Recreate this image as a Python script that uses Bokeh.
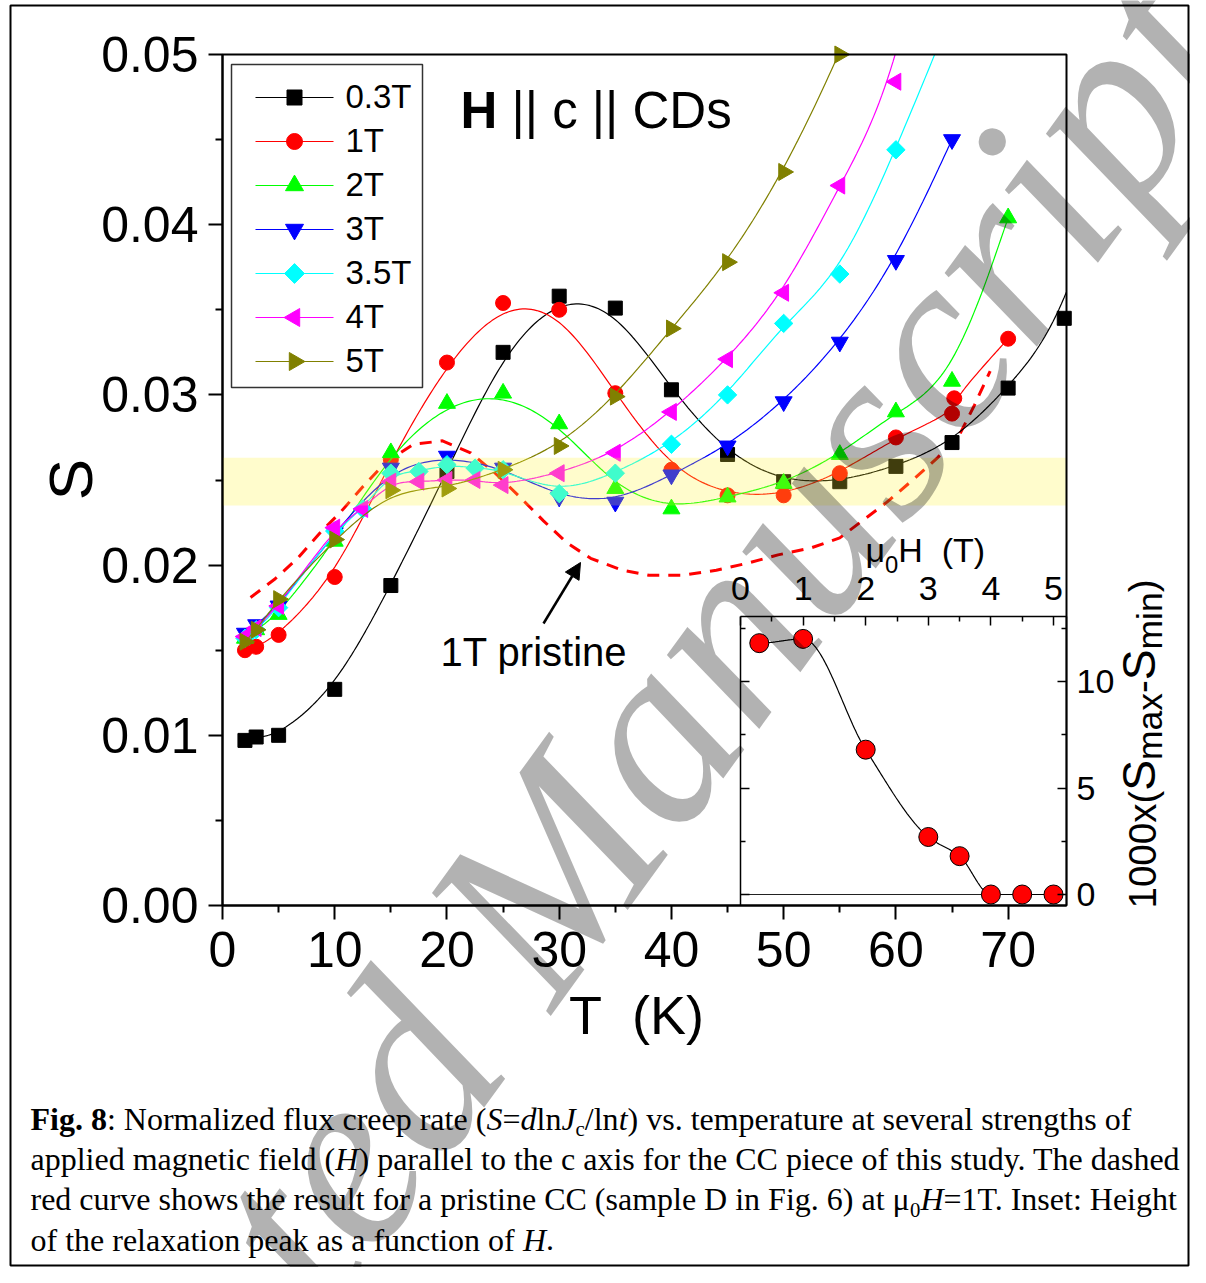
import os, glob, struct
import numpy as np
from bokeh.plotting import figure
from bokeh.models import (Range1d, LinearAxis, FixedTicker, PrintfTickFormatter, Label,
                          BoxAnnotation, Arrow, NormalHead)
from bokeh.embed import file_html
from bokeh.resources import INLINE

# ---------------- data ----------------
SERIES_LABELS = ["0.3T", "1T", "2T", "3T", "3.5T", "4T", "5T"]

T_03 = [2, 3, 5, 10, 15, 20, 25, 30, 35, 40, 45, 50, 55, 60, 65, 70, 75, 80]
S_03 = [0.0097, 0.0099, 0.0100, 0.0127, 0.0188, 0.0255, 0.0325, 0.0358, 0.0351,
        0.0303, 0.0265, 0.0249, 0.0249, 0.0258, 0.0272, 0.0304, 0.0345, 0.0460]

T_1 = [2, 3, 5, 10, 15, 20, 25, 30, 35, 40, 45, 50, 55, 60, 65, 65.2, 70]
S_1 = [0.0150, 0.0152, 0.0159, 0.0193, 0.0262, 0.0319, 0.0354, 0.0350, 0.0301,
       0.0256, 0.0241, 0.0241, 0.0254, 0.0275, 0.0289, 0.0298, 0.0333]

T_2 = [2, 3, 5, 10, 15, 20, 25, 30, 35, 40, 45, 50, 55, 60, 65, 70]
S_2 = [0.0157, 0.0162, 0.0171, 0.0214, 0.0266, 0.0295, 0.0301, 0.0283, 0.0245,
       0.0233, 0.0240, 0.0248, 0.0265, 0.0290, 0.0308, 0.0404]

T_3 = [2, 3, 5, 10, 15, 20, 25, 30, 35, 40, 45, 50, 55, 60, 65]
S_3 = [0.0160, 0.0165, 0.0176, 0.0219, 0.0257, 0.0264, 0.0257, 0.0240, 0.0237,
       0.0253, 0.0270, 0.0296, 0.0331, 0.0379, 0.0450]

T_35 = [2, 3, 5, 10, 12.5, 15, 17.5, 20, 22.5, 25, 30, 35, 40, 45, 50, 55, 60, 65]
S_35 = [0.0157, 0.0162, 0.0175, 0.0220, 0.0233, 0.0254, 0.0255, 0.0259, 0.0257,
        0.0256, 0.0242, 0.0254, 0.0271, 0.0300, 0.0342, 0.0371, 0.0444, 0.0525]

T_4 = [2, 3, 5, 10, 12.5, 15, 17.5, 20, 22.5, 25, 30, 35, 40, 45, 50, 55, 60, 65]
S_4 = [0.0158, 0.0163, 0.0176, 0.0222, 0.0233, 0.0249, 0.0249, 0.0250, 0.0250,
       0.0247, 0.0254, 0.0266, 0.0290, 0.0321, 0.0360, 0.0423, 0.0484, 0.0650]

T_5 = [2, 3, 5, 10, 15, 20, 25, 30, 35, 40, 45, 50, 55, 60]
S_5 = [0.0155, 0.0162, 0.0180, 0.0215, 0.0244, 0.0245, 0.0256, 0.0270, 0.0299,
       0.0339, 0.0378, 0.0431, 0.0500, 0.0580]

T_PRISTINE = [2.5, 4.7, 6.7, 8.7, 10.5, 12.5, 14.5, 17.0, 19.6, 22.1, 24.3, 26.5, 28.6,
              30.7, 32.8, 35.6, 38.0, 41.0, 44.0, 46.7, 49.5, 52.4, 55.0, 57.0, 59.2,
              61.5, 63.7, 65.7, 67.0, 68.4]
S_PRISTINE = [0.0181, 0.0192, 0.0204, 0.0219, 0.0231, 0.0246, 0.0260, 0.0271, 0.0273,
              0.0266, 0.0254, 0.0240, 0.0226, 0.0213, 0.0204, 0.0197, 0.0194, 0.0194,
              0.0197, 0.0201, 0.0206, 0.0210, 0.0216, 0.0226, 0.0237, 0.0250, 0.0263,
              0.0277, 0.0294, 0.0314]

BAND_S = [0.0235, 0.0263]

H_INSET = [0.3, 1, 2, 3, 3.5, 4, 4.5, 5]
D_INSET = [11.8, 12.0, 6.8, 2.7, 1.8, 0.0, 0.0, 0.0]

T_TICKS = [0, 10, 20, 30, 40, 50, 60, 70]
T_MINOR = [5, 15, 25, 35, 45, 55, 65]
S_TICKS = [0.0, 0.01, 0.02, 0.03, 0.04, 0.05]
S_MINOR = [0.005, 0.015, 0.025, 0.035, 0.045]
H_TICKS = [0, 1, 2, 3, 4, 5]
H_MINOR = [0.5, 1.5, 2.5, 3.5, 4.5]
D_TICKS = [0, 5, 10]
D_MINOR = [2.5, 7.5, 12.5]

# ---------------- layout constants (pixels of the picture) ----------------
W, H = 1190, 1267
FL, FR, FT, FB = 222, 1066, 54, 905      # main plot box
X_MAX, Y_MAX = 75.2, 0.05
IN_H0, IN_HPX = 740, 62.6                # inset: pixel of H=0, pixels per tesla
IN_D0, IN_DPX = 894, 21.3                # inset: pixel of D=0, pixels per unit
INSET_TOP = (IN_D0 - 616) / IN_DPX
INSET_RIGHT = (FR - IN_H0) / IN_HPX
INSET_BOTTOM = (IN_D0 - FB) / IN_DPX
SANS = "Liberation Sans"
SERIF = "Liberation Serif"
BASE_FIX = 0.4                           # label baseline correction (em)

kx = (FR - FL) / X_MAX
ky = (FB - FT) / Y_MAX
T_VIEW = ((0 - FL) / kx, (W - FL) / kx)
S_VIEW = ((FB - H) / ky, FB / ky)
H_VIEW = ((0 - IN_H0) / IN_HPX, (W - IN_H0) / IN_HPX)
D_VIEW = ((IN_D0 - H) / IN_DPX, IN_D0 / IN_DPX)


# ---------------- font widths (for rich text segments) ----------------
class TTFWidths:
    def __init__(self, path):
        self.ok = False
        if not path:
            return
        try:
            d = open(path, "rb").read()
            n = struct.unpack(">H", d[4:6])[0]
            tabs = {}
            for i in range(n):
                tag, _, off, ln = struct.unpack(">4sIII", d[12 + 16 * i:28 + 16 * i])
                tabs[tag] = off
            hd = tabs[b"head"]
            self.upem = struct.unpack(">H", d[hd + 18:hd + 20])[0]
            hh = tabs[b"hhea"]
            nh = struct.unpack(">H", d[hh + 34:hh + 36])[0]
            ho = tabs[b"hmtx"]
            self.adv = [struct.unpack(">H", d[ho + 4 * i:ho + 4 * i + 2])[0] for i in range(nh)]
            co = tabs[b"cmap"]
            nsub = struct.unpack(">H", d[co + 2:co + 4])[0]
            best = None
            for i in range(nsub):
                pid, eid, so = struct.unpack(">HHI", d[co + 4 + 8 * i:co + 12 + 8 * i])
                fmt = struct.unpack(">H", d[co + so:co + so + 2])[0]
                if fmt == 4 and (pid == 3 or pid == 0):
                    best = co + so
                    if pid == 3:
                        break
            s = best
            segx2 = struct.unpack(">H", d[s + 6:s + 8])[0]
            ns = segx2 // 2
            self.ends = struct.unpack(">%dH" % ns, d[s + 14:s + 14 + segx2])
            self.starts = struct.unpack(">%dH" % ns, d[s + 16 + segx2:s + 16 + 2 * segx2])
            self.deltas = struct.unpack(">%dh" % ns, d[s + 16 + 2 * segx2:s + 16 + 3 * segx2])
            self.ro_pos = s + 16 + 3 * segx2
            self.ros = struct.unpack(">%dH" % ns, d[self.ro_pos:self.ro_pos + segx2])
            self.d = d
            self.ok = True
        except Exception:
            self.ok = False

    def glyph(self, c):
        for i, e in enumerate(self.ends):
            if c <= e:
                st = self.starts[i]
                if c < st:
                    return 0
                ro = self.ros[i]
                if ro == 0:
                    return (c + self.deltas[i]) & 0xFFFF
                a = self.ro_pos + 2 * i + ro + 2 * (c - st)
                g = struct.unpack(">H", self.d[a:a + 2])[0]
                return (g + self.deltas[i]) & 0xFFFF if g else 0
        return 0

    def width(self, text, size):
        if not self.ok:
            return 0.5 * size * len(text)
        tot = 0
        for ch in text:
            g = self.glyph(ord(ch))
            tot += self.adv[g] if g < len(self.adv) else self.adv[-1]
        return tot * size / self.upem


def find_font(fname):
    for root in ("/usr/share/fonts", "/usr/local/share/fonts", os.path.expanduser("~/.fonts"),
                 os.path.expanduser("~/.local/share/fonts")):
        hits = glob.glob(os.path.join(root, "**", fname), recursive=True)
        if hits:
            return hits[0]
    return None


FONT_FILES = {
    (SERIF, "normal"): "LiberationSerif-Regular.ttf",
    (SERIF, "bold"): "LiberationSerif-Bold.ttf",
    (SERIF, "italic"): "LiberationSerif-Italic.ttf",
    (SANS, "normal"): "LiberationSans-Regular.ttf",
    (SANS, "bold"): "LiberationSans-Bold.ttf",
}
METRICS = {k: TTFWidths(find_font(v)) for k, v in FONT_FILES.items()}


def text_width(text, family, style, size):
    return METRICS[(family, style)].width(text, size)


# ---------------- curve helpers ----------------
def bspline(xs, ys, n=20):
    P = np.column_stack([xs, ys]).astype(float)
    P = np.vstack([P[0], P[0], P, P[-1], P[-1]])
    t = np.linspace(0, 1, n, endpoint=False)
    b0 = (1 - t) ** 3 / 6
    b1 = (3 * t ** 3 - 6 * t ** 2 + 4) / 6
    b2 = (-3 * t ** 3 + 3 * t ** 2 + 3 * t + 1) / 6
    b3 = t ** 3 / 6
    out = []
    for i in range(len(P) - 3):
        out.append(np.outer(b0, P[i]) + np.outer(b1, P[i + 1]) +
                   np.outer(b2, P[i + 2]) + np.outer(b3, P[i + 3]))
    out.append(P[-1][None, :])
    c = np.vstack(out)
    return c[:, 0], c[:, 1]


def pchip(x, y, n=300):
    x = np.asarray(x, float)
    y = np.asarray(y, float)
    h = np.diff(x)
    d = np.diff(y) / h
    m = np.zeros_like(y)
    for k in range(1, len(x) - 1):
        if d[k - 1] * d[k] > 0:
            w1 = 2 * h[k] + h[k - 1]
            w2 = h[k] + 2 * h[k - 1]
            m[k] = (w1 + w2) / (w1 / d[k - 1] + w2 / d[k])
    xs = np.linspace(x[0], x[-1], n)
    k = np.clip(np.searchsorted(x, xs, side="right") - 1, 0, len(x) - 2)
    t = (xs - x[k]) / h[k]
    ys = ((2 * t ** 3 - 3 * t ** 2 + 1) * y[k] + (t ** 3 - 2 * t ** 2 + t) * h[k] * m[k] +
          (-2 * t ** 3 + 3 * t ** 2) * y[k + 1] + (t ** 3 - t ** 2) * h[k] * m[k + 1])
    return xs, ys


def clip_polyline(xs, ys, x0, x1, y0, y1):
    ox, oy = [], []
    for i in range(len(xs) - 1):
        ax, ay, bx, by = xs[i], ys[i], xs[i + 1], ys[i + 1]
        dx, dy = bx - ax, by - ay
        t0, t1, ok = 0.0, 1.0, True
        for pp, qq in ((-dx, ax - x0), (dx, x1 - ax), (-dy, ay - y0), (dy, y1 - ay)):
            if pp == 0:
                if qq < 0:
                    ok = False
                    break
            else:
                r = qq / pp
                if pp < 0:
                    if r > t1:
                        ok = False
                        break
                    t0 = max(t0, r)
                else:
                    if r < t0:
                        ok = False
                        break
                    t1 = min(t1, r)
        if not ok:
            if ox and not np.isnan(ox[-1]):
                ox.append(np.nan)
                oy.append(np.nan)
            continue
        sx, sy = ax + t0 * dx, ay + t0 * dy
        ex, ey = ax + t1 * dx, ay + t1 * dy
        if not ox or np.isnan(ox[-1]) or abs(ox[-1] - sx) > 1e-9 or abs(oy[-1] - sy) > 1e-9:
            if ox and not np.isnan(ox[-1]):
                ox.append(np.nan)
                oy.append(np.nan)
            ox.append(sx)
            oy.append(sy)
        ox.append(ex)
        oy.append(ey)
    return ox, oy


# ---------------- figure: the frame is the whole canvas ----------------
p = figure(width=W, height=H, x_range=Range1d(*T_VIEW), y_range=Range1d(*S_VIEW),
           output_backend="svg", toolbar_location=None,
           x_axis_location=None, y_axis_location=None,
           min_border=0, min_border_left=0, min_border_right=0,
           min_border_top=0, min_border_bottom=0)
p.title.visible = False
p.extra_x_ranges = {"px": Range1d(0, W), "H": Range1d(*H_VIEW)}
p.extra_y_ranges = {"py": Range1d(H, 0), "D": Range1d(*D_VIEW)}
p.outline_line_color = None
p.background_fill_color = "white"
p.border_fill_color = "white"
try:
    p.xgrid.visible = False
    p.ygrid.visible = False
except Exception:
    pass

AX_STYLE = dict(axis_line_width=2, major_tick_line_width=2, minor_tick_line_width=2,
                major_tick_out=14, major_tick_in=0, minor_tick_out=7, minor_tick_in=0,
                major_label_text_font=SANS, major_label_text_font_size="50px",
                major_label_text_color="black", axis_line_color="black",
                major_tick_line_color="black", minor_tick_line_color="black")
xax = LinearAxis(fixed_location=0.0, bounds=(0, X_MAX),
                 ticker=FixedTicker(ticks=T_TICKS, minor_ticks=T_MINOR),
                 major_label_standoff=12, **AX_STYLE)
p.add_layout(xax, "below")
yax = LinearAxis(fixed_location=0.0, bounds=(0, Y_MAX),
                 ticker=FixedTicker(ticks=S_TICKS, minor_ticks=S_MINOR),
                 formatter=PrintfTickFormatter(format="%.2f"),
                 major_label_standoff=10, **AX_STYLE)
p.add_layout(yax, "left")

# pristine dashed curve
p.line(T_PRISTINE, S_PRISTINE, line_color="#FF0000", line_width=3, line_dash="12 9")

# main series
SPECS = [
    (T_03, S_03, "#000000", "square", 0.0, 14),
    (T_1, S_1, "#FF0000", "circle", 0.0, 15),
    (T_2, S_2, "#00FF00", "triangle", 0.0, 17),
    (T_3, S_3, "#0000FF", "inverted_triangle", 0.0, 17),
    (T_35, S_35, "#00FFFF", "square", np.pi / 4, 13),
    (T_4, S_4, "#FF00FF", "triangle", np.pi / 2, 17),
    (T_5, S_5, "#808000", "triangle", -np.pi / 2, 17),
]
for (T, S, col, mk, ang, sz) in SPECS:
    cx, cy = bspline(T, S)
    lx, ly = clip_polyline(cx, cy, 0, X_MAX, 0, Y_MAX)
    p.line(lx, ly, line_color=col, line_width=1.2)
    Ta, Sa = np.asarray(T, float), np.asarray(S, float)
    keep = (Ta <= X_MAX) & (Sa <= Y_MAX)
    p.scatter(Ta[keep], Sa[keep], marker=mk, size=sz, angle=ang, fill_color=col, line_color=col)

# yellow band (drawn over the data, translucent)
p.add_layout(BoxAnnotation(left=0, right=X_MAX, bottom=BAND_S[0], top=BAND_S[1],
                           fill_color="#FFF434", fill_alpha=0.25, line_color=None))
# top and right edges of the plot box
p.add_layout(BoxAnnotation(left=0, right=X_MAX, bottom=0, top=Y_MAX, fill_color=None,
                           fill_alpha=0, line_color="black", line_alpha=1.0, line_width=2))

# ---------------- legend (drawn by hand so that rotated markers show) ----------------
LEG_BOX = (231, 422, 64, 387)
LEG_Y0, LEG_DY = 97, 44
LEG_X0, LEG_X1, LEG_TX = 255, 333, 345
p.quad(left=[LEG_BOX[0]], right=[LEG_BOX[1]], top=[LEG_BOX[2]], bottom=[LEG_BOX[3]],
       x_range_name="px", y_range_name="py", fill_color="white",
       line_color="#333333", line_width=1.5)
for i, (label, spec) in enumerate(zip(SERIES_LABELS, SPECS)):
    col, mk, ang, sz = spec[2], spec[3], spec[4], spec[5]
    yy = LEG_Y0 + LEG_DY * i
    p.segment(x0=[LEG_X0], y0=[yy], x1=[LEG_X1], y1=[yy], x_range_name="px",
              y_range_name="py", line_color=col, line_width=1.2)
    p.scatter([(LEG_X0 + LEG_X1) / 2], [yy], x_range_name="px", y_range_name="py",
              marker=mk, size=sz + 1, angle=ang, fill_color=col, line_color=col)

# ---------------- inset ----------------
p.segment(x0=[H_TICKS[0]], y0=[0], x1=[INSET_RIGHT], y1=[0], x_range_name="H",
          y_range_name="D", line_color="#222222", line_width=1.2)
hx, hy = pchip(H_INSET, D_INSET)
p.line(hx, hy, x_range_name="H", y_range_name="D", line_color="black", line_width=1.2)
p.scatter(H_INSET, D_INSET, x_range_name="H", y_range_name="D", marker="circle", size=19,
          fill_color="#FF0000", line_color="black", line_width=1)


def inset_axis(**kw):
    return LinearAxis(x_range_name="H", y_range_name="D", axis_line_width=1.5,
                      major_tick_line_width=1.5, minor_tick_line_width=1.5,
                      major_tick_out=0, minor_tick_out=0, major_tick_in=9, minor_tick_in=5,
                      major_label_text_font=SANS, major_label_text_font_size="34px",
                      major_label_text_color="black", **kw)


p.add_layout(inset_axis(fixed_location=INSET_TOP, bounds=(0, INSET_RIGHT),
                        ticker=FixedTicker(ticks=H_TICKS, minor_ticks=H_MINOR),
                        major_label_standoff=17), "above")
p.add_layout(inset_axis(fixed_location=INSET_RIGHT, bounds=(INSET_BOTTOM, INSET_TOP),
                        ticker=FixedTicker(ticks=D_TICKS, minor_ticks=D_MINOR),
                        major_label_standoff=10), "right")
left_ax = inset_axis(fixed_location=0, bounds=(INSET_BOTTOM, INSET_TOP),
                     ticker=FixedTicker(ticks=D_TICKS, minor_ticks=D_MINOR))
left_ax.major_label_text_color = None
p.add_layout(left_ax, "left")


# ---------------- text helpers ----------------
def put_text(text, x, y, size, family=SANS, style="normal", angle=0.0, color="black",
             alpha=1.0, align="left"):
    x = x - BASE_FIX * size * np.sin(angle)
    y = y - BASE_FIX * size * np.cos(angle)
    p.add_layout(Label(x=x, y=y, x_range_name="px", y_range_name="py", text=text,
                       text_font=family, text_font_size="%.2fpx" % size,
                       text_font_style=style, text_color=color, text_alpha=alpha,
                       angle=angle, text_align=align, text_baseline="alphabetic"))


def put_rich(segments, x, y, size, family, angle=0.0):
    ux, uy = np.cos(angle), -np.sin(angle)
    dx, dy = np.sin(angle), np.cos(angle)
    adv = 0.0
    for seg in segments:
        text, style = seg[0], seg[1]
        scale = seg[2] if len(seg) > 2 else 1.0
        shift = seg[3] if len(seg) > 3 else 0.0
        fs = size * scale
        put_text(text, x + adv * ux + shift * size * dx, y + adv * uy + shift * size * dy,
                 fs, family, style, angle)
        adv += text_width(text, family, style, fs)
    return adv


# legend texts
for i, label in enumerate(SERIES_LABELS):
    put_text(label, LEG_TX, LEG_Y0 + LEG_DY * i + 12, 33)

# axis titles
put_text("T\u00a0\u00a0(K)", 636, 1036, 54, align="center")
put_text("S", 95, 479, 62, angle=np.pi / 2, align="center")

# title inside the plot
put_rich([("H ", "bold"), ("|| c || CDs", "normal")], 460, 130, 51, SANS)
# pristine annotation
put_text("1T pristine", 440, 667, 40)
p.add_layout(Arrow(end=NormalHead(size=16, fill_color="black", line_color="black"),
                   x_start=543, y_start=623, x_end=580, y_end=562,
                   x_range_name="px", y_range_name="py", line_width=2.5, line_color="black"))
# inset axis titles
put_rich([("\u03bc", "normal"), ("0", "normal", 0.7, 0.3), ("H\u00a0\u00a0(T)", "normal")],
         865, 563, 34, SANS)
put_rich([("1000x(", "normal"), ("S", "normal", 1.2), ("max", "normal", 0.92, 0.18),
          ("-", "normal"), ("S", "normal", 1.2), ("min", "normal", 0.92, 0.18),
          (")", "normal")], 1157, 908, 38.5, SANS, angle=np.pi / 2)

# ---------------- caption ----------------
CAPTION = [
    [("Fig. 8", "bold"), (": Normalized flux creep rate (", "normal"), ("S", "italic"),
     ("=", "normal"), ("d", "italic"), ("ln", "normal"), ("J", "italic"),
     ("c", "normal", 0.65, 0.18), ("/ln", "normal"), ("t", "italic"),
     (") vs. temperature at several strengths of", "normal")],
    [("applied magnetic field (", "normal"), ("H", "italic"),
     (") parallel to the c axis for the CC piece of this study. The dashed", "normal")],
    [("red curve shows the result for a pristine CC (sample D in Fig. 6) at \u03bc", "normal"),
     ("0", "normal", 0.65, 0.18), ("H", "italic"), ("=1T. Inset: Height", "normal")],
    [("of the relaxation peak as a function of ", "normal"), ("H", "italic"), (".", "normal")],
]
line2_em = sum(text_width(s[0], SERIF, s[1], 1.0) for s in CAPTION[1])
CAP_SIZE = 1152.0 / line2_em if line2_em > 0 else 27.0
for i, segs in enumerate(CAPTION):
    put_rich(segs, 30, 1131 + 40.4 * i, CAP_SIZE, SERIF)

# ---------------- watermark ----------------
WM_TEXT = "Accepted Manuscript"
WM_SIZE = 257
WM_ANGLE = np.deg2rad(54)
WM_S_BASE = (947, 497)     # baseline point under the middle of the 's' of "Manuscript"
k = WM_TEXT.index("Manus") + 4
wm_adv = text_width(WM_TEXT[:k], SERIF, "italic", WM_SIZE) + \
    text_width("s", SERIF, "italic", WM_SIZE) / 2
wm_x = WM_S_BASE[0] - wm_adv * np.cos(WM_ANGLE)
wm_y = WM_S_BASE[1] + wm_adv * np.sin(WM_ANGLE)
put_text(WM_TEXT, wm_x, wm_y, WM_SIZE, SERIF, "italic", WM_ANGLE, "black", 0.3)

# outer border of the figure panel
p.add_layout(BoxAnnotation(left=10, right=W - 2, top=5, bottom=H - 2, x_range_name="px",
                           y_range_name="py", fill_color=None, fill_alpha=0,
                           line_color="black", line_alpha=1.0, line_width=2))

open("out.html", "w").write(file_html(p, INLINE))
